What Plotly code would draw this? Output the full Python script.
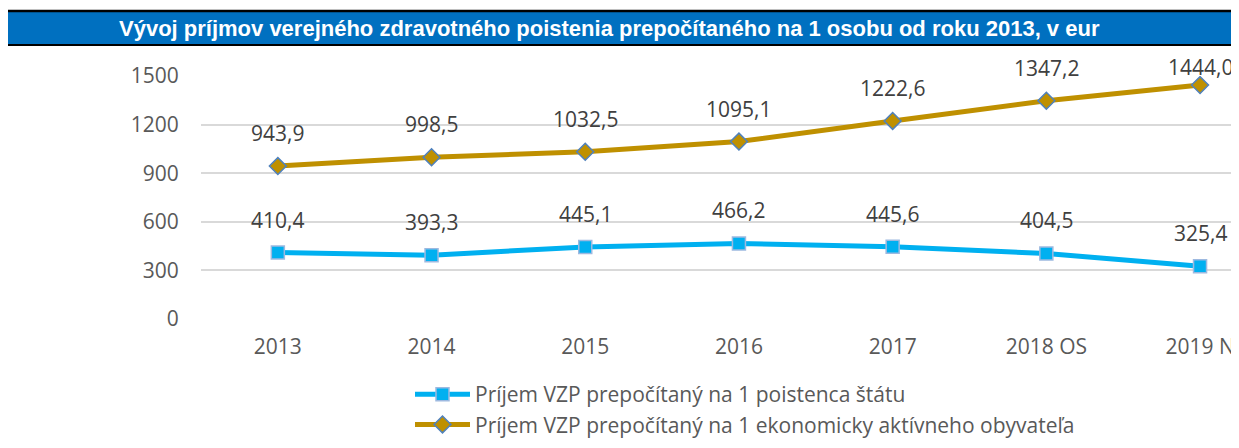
import plotly.graph_objects as go

categories = ["2013", "2014", "2015", "2016", "2017", "2018 OS", "2019 N"]
per_insured_state = [410.4, 393.3, 445.1, 466.2, 445.6, 404.5, 325.4]
per_active_resident = [943.9, 998.5, 1032.5, 1095.1, 1222.6, 1347.2, 1444.0]
series_names = [
    "Príjem VZP prepočítaný na 1 poistenca štátu",
    "Príjem VZP prepočítaný na 1 ekonomicky aktívneho obyvateľa",
]
title_text = "Vývoj príjmov verejného zdravotného poistenia prepočítaného na 1 osobu od roku 2013, v eur"
y_ticks = [0, 300, 600, 900, 1200, 1500]

OFF = 8  # page body margin
W, H = 1239, 440
L, T = 201 - OFF, 76 - OFF
R = 0
B = H - (319 - OFF)
PW, PH = W - L - R, H - T - B
STEP = 153.7  # px per category
YMAX = 1500


def px_x(x):  # screen px -> paper
    return (x - OFF - L) / PW


def px_y(y):
    return (H - B - (y - OFF)) / PH


xs = list(range(len(categories)))
x_hi = -0.5 + PW / STEP

fig = go.Figure()
fig.add_trace(go.Scatter(
    x=xs, y=per_insured_state, name=series_names[0], mode="lines+markers",
    line=dict(color="#00B0F0", width=5),
    marker=dict(symbol="square", size=13, color="#00B0F0",
                line=dict(color="#9DB9E0", width=1.5)),
))
fig.add_trace(go.Scatter(
    x=xs, y=per_active_resident, name=series_names[1], mode="lines+markers",
    line=dict(color="#BF9000", width=5),
    marker=dict(symbol="diamond", size=13, color="#BF9000",
                line=dict(color="#4F81BD", width=1.5)),
))

annotations = []
for series in (per_insured_state, per_active_resident):
    for xi, v in zip(xs, series):
        point_screen = OFF + T + (1 - v / YMAX) * PH
        shift = min(33, point_screen - 67)
        annotations.append(dict(
            x=xi, y=v, xref="x", yref="y", text=f"{v:.1f}".replace(".", ","),
            showarrow=False, yshift=shift,
            font=dict(family="Open Sans", size=21, color="#404040"),
        ))

annotations.append(dict(
    x=px_x(609), y=px_y(28), xref="paper", yref="paper", text=f"<b>{title_text}</b>",
    showarrow=False, xanchor="center", yanchor="middle",
    font=dict(family="Liberation Sans", size=22, color="white"),
))

shapes = [
    dict(type="rect", xref="paper", yref="paper", x0=px_x(8), x1=px_x(1250),
         y0=px_y(11), y1=px_y(44.5), fillcolor="#0070C0", line=dict(width=0), layer="above"),
    dict(type="line", xref="paper", yref="paper", x0=px_x(8), x1=px_x(1250),
         y0=px_y(11), y1=px_y(11), line=dict(color="black", width=2.5)),
    dict(type="line", xref="paper", yref="paper", x0=px_x(8), x1=px_x(1250),
         y0=px_y(45), y1=px_y(45), line=dict(color="black", width=2)),
]

fig.update_layout(
    width=W, height=H,
    margin=dict(l=L, r=R, t=T, b=B),
    paper_bgcolor="white", plot_bgcolor="white",
    annotations=annotations, shapes=shapes,
    showlegend=True,
    legend=dict(
        orientation="v", x=px_x(410), y=px_y(374), xanchor="left", yanchor="top",
        font=dict(family="Open Sans", size=21, color="#595959"),
        itemwidth=55, tracegroupgap=0,
        bgcolor="rgba(0,0,0,0)",
    ),
    xaxis=dict(
        tickmode="array", tickvals=xs, ticktext=categories,
        range=[-0.5, x_hi], showgrid=False, zeroline=False, showline=False,
        tickfont=dict(family="Open Sans", size=21, color="#595959"),
        ticks="outside", ticklen=9, tickcolor="rgba(0,0,0,0)",
    ),
    yaxis=dict(
        range=[0, YMAX], tickmode="array", tickvals=y_ticks,
        showgrid=True, gridcolor="#D9D9D9", gridwidth=2, zeroline=False,
        tickfont=dict(family="Open Sans", size=21, color="#595959"),
        ticks="outside", ticklen=17, tickcolor="rgba(0,0,0,0)",
    ),
)

fig.write_html("out.html")
